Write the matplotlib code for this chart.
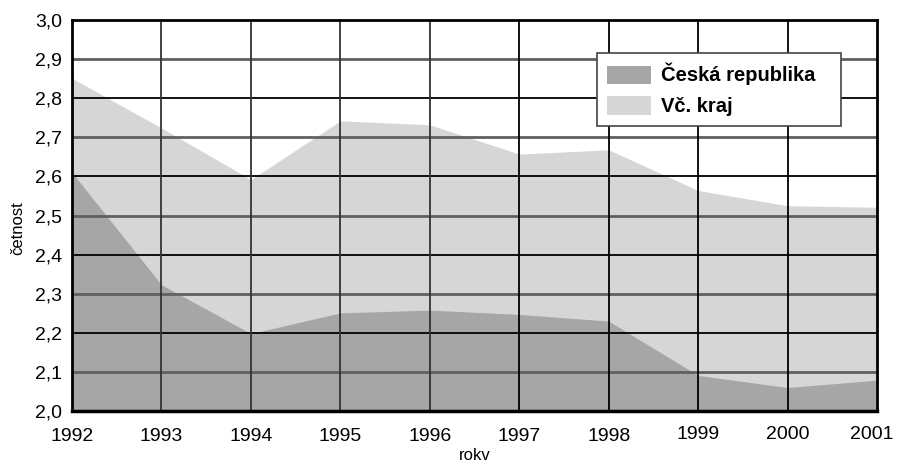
import matplotlib
matplotlib.use("Agg")
import matplotlib.pyplot as plt
from matplotlib.patches import Patch
from matplotlib.transforms import ScaledTranslation

years = [1992, 1993, 1994, 1995, 1996, 1997, 1998, 1999, 2000, 2001]
cr_values = [2.61, 2.323, 2.198, 2.251, 2.258, 2.247, 2.230, 2.091, 2.060, 2.079]
vc_values = [2.851, 2.724, 2.592, 2.742, 2.732, 2.657, 2.668, 2.564, 2.525, 2.521]
y_ticks = [2.0, 2.1, 2.2, 2.3, 2.4, 2.5, 2.6, 2.7, 2.8, 2.9, 3.0]
y_tick_labels = ["2,0", "2,1", "2,2", "2,3", "2,4", "2,5", "2,6", "2,7", "2,8", "2,9", "3,0"]
series_names = ["Česká republika", "Vč. kraj"]

plt.rcParams['font.family'] = ['Liberation Sans', 'DejaVu Sans']

fig = plt.figure(figsize=(8.97, 4.65), dpi=100)
ax = fig.add_axes([72/897, 1 - 411/465, 805/897, 391/465])

dark = '#a6a6a6'
light = '#d6d6d6'
ax.fill_between(years, 2.0, vc_values, color=light, lw=0, zorder=1)
ax.fill_between(years, 2.0, cr_values, color=dark, lw=0, zorder=1.5)

for i, v in enumerate(y_ticks[1:-1]):
    if i % 2 == 0:
        ax.axhline(v, color='#606060', lw=2.0, zorder=3)
    else:
        ax.axhline(v, color='black', lw=1.3, zorder=3)
for i, yr in enumerate(years[1:-1]):
    ax.axvline(yr, color='#333333' if i < 4 else 'black', lw=1.3, zorder=3)

ax.set_xlim(years[0], years[-1])
ax.set_ylim(y_ticks[0], y_ticks[-1])
ax.set_yticks(y_ticks)
ax.set_yticklabels(y_tick_labels)
ax.set_xticks(years)
ax.set_xticklabels([str(y) for y in years])
ax.tick_params(axis='both', length=0, labelsize=14, colors='black')
ax.tick_params(axis='y', pad=7)
ax.tick_params(axis='x', pad=12)
for t in ax.xaxis.get_major_ticks()[7:]:
    t.set_pad(10.5)
last = ax.get_xticklabels()[-1]
last.set_transform(last.get_transform() + ScaledTranslation(-5/100, 0, fig.dpi_scale_trans))

for side, lw in [('left', 2), ('bottom', 2.5), ('top', 2), ('right', 2)]:
    ax.spines[side].set_color('black')
    ax.spines[side].set_linewidth(lw)
    ax.spines[side].set_zorder(4)

ax.set_xlabel('rokv', fontsize=12)
ax.xaxis.set_label_coords(0.5, -0.095)
ax.set_ylabel('četnost', fontsize=12, va='center')
ax.yaxis.set_label_coords(-0.067, 0.468)

handles = [Patch(facecolor=dark, edgecolor='none'), Patch(facecolor=light, edgecolor='none')]
leg = ax.legend(handles, series_names, loc='upper left',
                bbox_to_anchor=(0.652, 0.716, 0.303, 0.2), mode='expand',
                borderaxespad=0, fancybox=False, framealpha=1, edgecolor='#444444',
                prop={'weight': 'bold', 'size': 14.5}, handlelength=2.2, handleheight=1.0,
                labelspacing=0.55, borderpad=0.5, handletextpad=0.5)
leg.get_frame().set_linewidth(1.2)
leg.set_zorder(5)

fig.savefig('out.png', dpi=100)
